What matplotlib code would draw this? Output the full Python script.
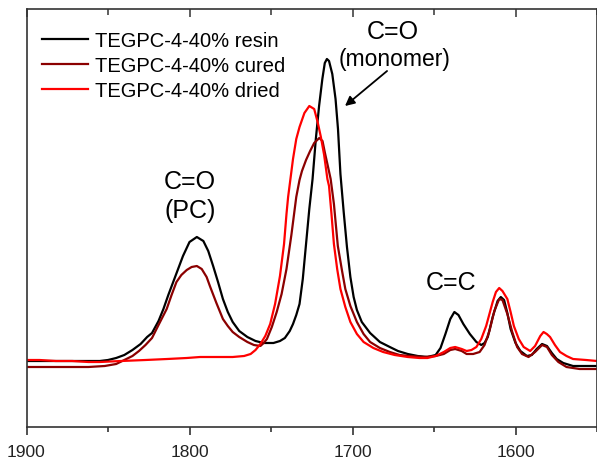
import matplotlib
matplotlib.use("Agg")
import matplotlib.pyplot as plt
from matplotlib.ticker import MultipleLocator

plt.rcParams['font.family'] = ['Liberation Sans', 'DejaVu Sans']

# FTIR spectra (wavenumber in cm-1, absorbance in a.u.)
wn_resin = [1900, 1882, 1867, 1855, 1850, 1845, 1840, 1835, 1830, 1826, 1823, 1819,
            1816, 1813, 1810, 1807, 1804, 1800, 1795.5, 1791.5, 1788.5, 1785.5, 1782.5,
            1779.5, 1776.5, 1773.5, 1769.5, 1764.5, 1759.5, 1754.5, 1748.5, 1744.5,
            1741.5, 1738.5, 1736.5, 1734.5, 1732.5, 1730.5, 1728.5, 1726.5, 1724.5,
            1722.5, 1720.5, 1718.5, 1717, 1715.7, 1714.4, 1712.4, 1710.4, 1708.9,
            1707.4, 1705.4, 1703.4, 1701.3, 1699.3, 1697.3, 1694.3, 1689.2, 1683.2,
            1677.1, 1672.1, 1666.1, 1660, 1654, 1649, 1646, 1643, 1640, 1637.5, 1635,
            1632, 1628, 1624, 1621, 1619, 1617, 1614, 1611, 1609, 1607, 1605, 1603,
            1600, 1597, 1593, 1590, 1587, 1583.7, 1580.7, 1577.7, 1574.7, 1570.7,
            1564.7, 1558.7, 1550]
abs_resin = [0.66, 0.66, 0.66, 0.66, 0.67, 0.69, 0.72, 0.77, 0.83, 0.90, 0.94, 1.06,
             1.18, 1.32, 1.45, 1.58, 1.71, 1.85, 1.90, 1.86, 1.76, 1.61, 1.45,
             1.28, 1.15, 1.05, 0.96, 0.90, 0.86, 0.84, 0.84, 0.86,
             0.89, 0.96, 1.03, 1.12, 1.23, 1.48, 1.83, 2.18, 2.48,
             2.88, 3.21, 3.48, 3.64, 3.68, 3.66, 3.53, 3.28, 2.98,
             2.53, 2.15, 1.80, 1.50, 1.30, 1.17, 1.05, 0.94, 0.85,
             0.80, 0.76, 0.73, 0.71, 0.70, 0.72, 0.79, 0.93, 1.08, 1.15, 1.12,
             1.03, 0.93, 0.85, 0.82, 0.84, 0.90, 1.10, 1.26, 1.30, 1.27, 1.14, 0.98,
             0.84, 0.76, 0.71, 0.72, 0.78, 0.83, 0.81, 0.74, 0.68, 0.64,
             0.61, 0.61, 0.61]

wn_cured = [1900, 1882, 1862, 1852, 1845, 1840, 1835, 1831, 1827, 1823, 1819, 1814,
            1811, 1808, 1805, 1801.7, 1798.7, 1795.5, 1792.5, 1789.5, 1787.5, 1783.5,
            1779.5, 1776.5, 1773.5, 1769.5, 1764.5, 1760.5, 1756.5, 1754.5, 1752.5,
            1749.5, 1746.5, 1743.5, 1740.5, 1737.5, 1734.5, 1732.5, 1731, 1728.5, 1726,
            1723.5, 1720.4, 1718.4, 1716.9, 1715.4, 1713.4, 1711.4, 1709, 1706.4,
            1704.4, 1701.3, 1697.3, 1693.2, 1689.2, 1683.2, 1677.1, 1671.1, 1665.1,
            1656, 1649, 1644, 1640, 1637, 1633, 1630, 1626, 1622, 1619, 1616, 1613,
            1610, 1608, 1605, 1602, 1599, 1596, 1592, 1588, 1583.7, 1580.7, 1577.7,
            1573.7, 1568.7, 1560.7, 1550]
abs_cured = [0.60, 0.60, 0.60, 0.61, 0.63, 0.67, 0.71, 0.76, 0.82, 0.89, 1.02, 1.18,
             1.32, 1.45, 1.52, 1.57, 1.60, 1.61, 1.58, 1.50, 1.41, 1.24,
             1.08, 1.01, 0.95, 0.90, 0.85, 0.82, 0.81, 0.84, 0.88,
             1.00, 1.15, 1.33, 1.58, 1.92, 2.30, 2.47, 2.56, 2.67, 2.76,
             2.84, 2.89, 2.86, 2.74, 2.63, 2.48, 2.23, 1.81, 1.56,
             1.38, 1.21, 1.05, 0.93, 0.85, 0.79, 0.75, 0.72, 0.71,
             0.70, 0.71, 0.73, 0.77, 0.78, 0.76, 0.73, 0.73, 0.75, 0.82, 0.96, 1.16,
             1.28, 1.27, 1.13, 0.95, 0.80, 0.73, 0.70, 0.75, 0.82, 0.80, 0.72,
             0.65, 0.60, 0.58, 0.58]

wn_dried = [1900, 1892, 1882, 1872, 1862, 1855, 1842, 1827, 1813.7, 1801.7, 1793.5,
            1781.5, 1773.5, 1766.5, 1762.5, 1759.5, 1756.5, 1753.5, 1750.5, 1747.5,
            1744.5, 1742, 1740.5, 1739.5, 1736.5, 1734.5, 1732.5, 1729.5,
            1726.5, 1723.5, 1721.4, 1719.4, 1717.4, 1715.4, 1714.4, 1712.9, 1711.4,
            1709.4, 1707.4, 1704.4, 1701.3, 1697.3, 1693.2, 1687.2, 1681.2, 1674.1,
            1666.1, 1659, 1654, 1649, 1644, 1640, 1637, 1633, 1630, 1627, 1624, 1621,
            1618, 1616, 1614, 1612, 1610, 1608, 1605, 1603, 1601, 1598, 1595, 1591,
            1588, 1584.8, 1582.8, 1580.8, 1578.8, 1575.8, 1572.7, 1568.7, 1564.7,
            1556.7, 1550]
abs_dried = [0.67, 0.67, 0.66, 0.66, 0.65, 0.65, 0.66, 0.67, 0.68, 0.69, 0.70,
             0.70, 0.70, 0.71, 0.73, 0.77, 0.83, 0.91, 1.03, 1.23,
             1.51, 1.83, 2.13, 2.30, 2.68, 2.88, 3.00, 3.14,
             3.21, 3.18, 3.05, 2.90, 2.72, 2.48, 2.41, 2.13, 1.83,
             1.58, 1.38, 1.20, 1.05, 0.93, 0.85, 0.79, 0.75, 0.72,
             0.70, 0.69, 0.69, 0.71, 0.75, 0.79, 0.80, 0.78, 0.76, 0.77, 0.80, 0.88,
             1.01, 1.13, 1.25, 1.35, 1.39, 1.36, 1.28, 1.15, 1.01, 0.88, 0.80, 0.76,
             0.81, 0.91, 0.95, 0.93, 0.90, 0.82, 0.75, 0.71, 0.68,
             0.67, 0.66]

labels = ['TEGPC-4-40% resin', 'TEGPC-4-40% cured', 'TEGPC-4-40% dried']
colors = ['#000000', '#8b0000', '#ff0000']

fig = plt.figure(figsize=(5.97, 4.60), dpi=100)
ax = fig.add_axes([26.5/597, 32/460, 570.5/597, 418/460])

series = [(wn_resin, abs_resin), (wn_cured, abs_cured), (wn_dried, abs_dried)]
for (x, y), c, lab in zip(series, colors, labels):
    ax.plot(x, y, color=c, lw=1.6, label=lab, solid_joinstyle='round')

ax.set_xlim(1900, 1550)
ax.set_ylim(0, 4.18)

ax.xaxis.set_major_locator(MultipleLocator(100))
ax.xaxis.set_minor_locator(MultipleLocator(50))
ax.set_yticks([])
ax.tick_params(axis='x', which='major', direction='out', length=6, width=1.1,
               labelsize=12.5, pad=6, colors='#222222')
ax.tick_params(axis='x', which='minor', direction='out', length=3.5, width=1.1,
               colors='#222222')
for sp in ax.spines.values():
    sp.set_color('#333333')
    sp.set_linewidth(1.2)

# top ticks point inward
sec = ax.secondary_xaxis('top')
sec.xaxis.set_major_locator(MultipleLocator(100))
sec.xaxis.set_minor_locator(MultipleLocator(50))
sec.tick_params(which='major', direction='in', length=6, width=1.1, labeltop=False,
                colors='#333333')
sec.tick_params(which='minor', direction='in', length=4, width=1.1, colors='#333333')
sec.spines['top'].set_visible(False)

ax.legend(loc='upper left', bbox_to_anchor=(0.027, 0.947), frameon=False,
          fontsize=14.5, handlelength=2.3, handletextpad=0.35, labelspacing=0.3,
          borderpad=0, borderaxespad=0)

ax.text(1799.7, 2.46, 'C=O', ha='center', va='center', fontsize=18)
ax.text(1799.7, 2.17, '(PC)', ha='center', va='center', fontsize=18)
ax.text(1675.2, 3.96, 'C=O', ha='center', va='center', fontsize=18)
ax.text(1674.5, 3.68, '(monomer)', ha='center', va='center', fontsize=16.5)
ax.text(1639.6, 1.45, 'C=C', ha='center', va='center', fontsize=18)
ax.annotate('', xy=(1704.6, 3.21), xytext=(1678.8, 3.56),
            arrowprops=dict(arrowstyle='-|>', color='black', lw=1.3,
                            mutation_scale=14, shrinkA=0, shrinkB=0))

fig.savefig('out.png', dpi=100)
